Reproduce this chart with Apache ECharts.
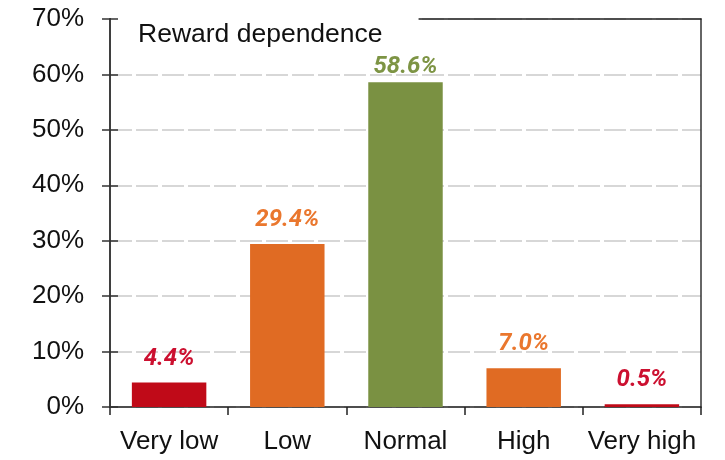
<!DOCTYPE html>
<html>
<head>
<meta charset="utf-8">
<script src="https://cdn.jsdelivr.net/npm/echarts@6/dist/echarts.min.js"></script>
<style>html,body{margin:0;padding:0;background:#fff;}#c{width:725px;height:460px;}</style>
</head>
<body>
<div id="c"></div>
<script>
const categories = ['Very low', 'Low', 'Normal', 'High', 'Very high'];
const values = [4.4, 29.4, 58.6, 7.0, 0.5];
const barColors = ['#c00a18', '#e06b23', '#7a9142', '#e06b23', '#c00a18'];
const labelColors = ['#cc1030', '#ea772e', '#7d9444', '#ea772e', '#cc1030'];
const yTicks = [0, 10, 20, 30, 40, 50, 60, 70];
const titleText = 'Reward dependence';

const chart = echarts.init(document.getElementById('c'), null, {renderer: 'canvas'});
const yMin = yTicks[0], yMax = yTicks[yTicks.length - 1], yInt = yTicks[1] - yTicks[0];
chart.setOption({
  animation: false,
  title: {
    text: titleText,
    left: 111, top: 11,
    backgroundColor: '#fff',
    padding: [10, 36, 6, 27],
    textStyle: {fontFamily: 'Liberation Sans', fontSize: 26.5, fontWeight: 'normal', color: '#111'}
  },
  grid: {left: 110, right: 24, top: 19, bottom: 53},
  xAxis: [{
    type: 'category', data: categories, position: 'bottom',
    axisLine: {onZero: false, lineStyle: {color: '#222', width: 1.5}},
    axisTick: {show: true, length: 8, alignWithLabel: false, lineStyle: {color: '#222', width: 1.5}},
    axisLabel: {interval: 0, margin: 22, fontFamily: 'Liberation Sans', fontSize: 26, color: '#111'}
  }, {
    type: 'category', data: categories, position: 'top',
    axisLine: {show: true, onZero: false, lineStyle: {color: '#222', width: 1.5}},
    axisTick: {show: false}, axisLabel: {show: false}
  }],
  yAxis: [{
    type: 'value', min: yMin, max: yMax, interval: yInt, position: 'left',
    axisLine: {show: true, onZero: false, lineStyle: {color: '#333', width: 1.5}},
    axisTick: {show: true, inside: false, length: 8, lineStyle: {color: '#333', width: 1.5}},
    axisLabel: {margin: 26, formatter: '{value}%', fontFamily: 'Liberation Sans', fontSize: 26, color: '#111'},
    splitLine: {show: true, lineStyle: {color: '#cacaca', width: 1.5, type: [22, 4]}}
  }, {
    type: 'value', min: yMin, max: yMax, interval: yInt, position: 'left', z: 10,
    axisLine: {show: true, onZero: false, lineStyle: {color: '#333', width: 1.5}},
    axisTick: {show: true, inside: true, length: 8, lineStyle: {color: '#333', width: 1.5}},
    axisLabel: {show: false}, splitLine: {show: false}
  }, {
    type: 'value', min: yMin, max: yMax, interval: yInt, position: 'right',
    axisLine: {show: true, onZero: false, lineStyle: {color: '#333', width: 1.5}},
    axisTick: {show: false}, axisLabel: {show: false}, splitLine: {show: false}
  }],
  series: [{
    type: 'bar',
    barWidth: '63%',
    data: values.map((v, i) => ({
      value: v,
      itemStyle: {color: barColors[i]},
      label: {color: labelColors[i], distance: v > 50 ? 3 : 12}
    })),
    label: {
      show: true, position: 'top',
      formatter: p => p.value.toFixed(1) + '%',
      fontFamily: 'Roboto', fontStyle: 'italic', fontWeight: 'bold', fontSize: 24
    }
  }]
});
</script>
</body>
</html>
